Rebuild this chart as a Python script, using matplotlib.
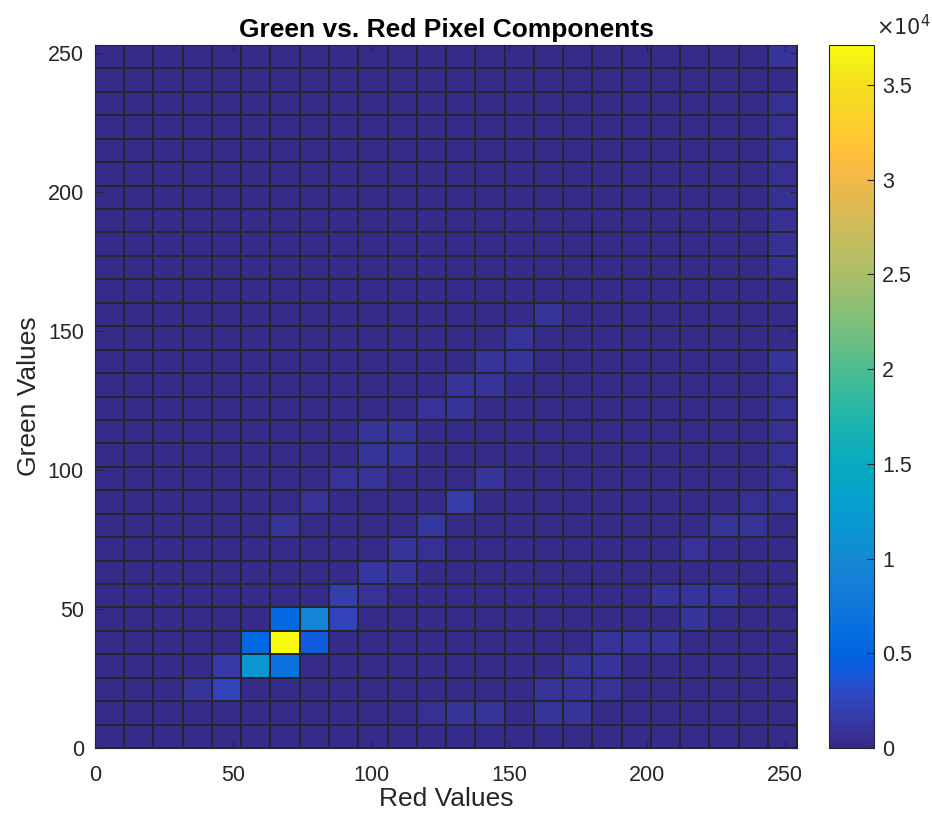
import numpy as np
import matplotlib
matplotlib.use('Agg')
import matplotlib.pyplot as plt
from matplotlib.colors import LinearSegmentedColormap

plt.rcParams['font.family'] = ['Liberation Sans', 'DejaVu Sans']

# bin edges (MATLAB auto binning: 24 red bins, 30 green bins)
x_edges = np.linspace(0, 254.4, 25)
y_edges = np.linspace(0, 253, 31)

# background count level for the empty bins
base_count = 150

# non-background bins: (red bin index, green bin index, count)
hot_cols = [6, 5, 7, 5, 6, 4, 4, 3, 6, 7, 8, 8, 9, 9, 10, 10, 11, 11, 6, 7,
            8, 9, 9, 10, 9, 10, 11, 11, 12, 12, 13, 12, 13, 13, 14, 14, 15,
            22, 21, 22, 20, 19, 20, 21, 20, 17, 18, 19, 16, 17, 15, 16, 17,
            12, 13, 15, 16,
            23, 23, 23, 23, 23, 23, 23, 23, 23, 23, 23, 23, 23, 23, 23, 23]
hot_rows = [4, 4, 4, 3, 3, 3, 2, 2, 5, 5, 5, 6, 6, 7, 7, 8, 8, 9, 9, 10,
            11, 11, 12, 12, 13, 13, 14, 1, 14, 10, 11, 15, 15, 16, 16, 17, 18,
            10, 9, 9, 8, 6, 6, 6, 5, 4, 4, 4, 3, 3, 2, 2, 2,
            1, 1, 1, 1,
            29, 27, 26, 25, 24, 23, 22, 21, 20, 16, 15, 14, 13, 12, 11, 10]
hot_counts = [37100, 5300, 4100, 11600, 6700, 1500, 2400, 1000, 5500, 9300,
              2400, 1800, 800, 1200, 900, 1000, 600, 1200, 800, 800,
              800, 800, 900, 900, 900, 900, 800, 700, 900, 1600, 900, 1000,
              1000, 1000, 1000, 1000, 1000,
              700, 800, 800, 800, 900, 900, 900, 900, 900, 900, 900, 900,
              1000, 900, 900, 800,
              900, 900, 900, 900,
              1000, 700, 700, 700, 700, 700, 700, 700, 700, 900, 700, 700,
              700, 700, 700, 700]

counts = np.full((len(y_edges) - 1, len(x_edges) - 1), float(base_count))
for c, r, v in zip(hot_cols, hot_rows, hot_counts):
    counts[r, c] = v

# MATLAB parula colormap (64 entries)
parula_data = [
    [0.2081, 0.1663, 0.5292], [0.2116, 0.1898, 0.5777], [0.2123, 0.2138, 0.6270],
    [0.2081, 0.2386, 0.6771], [0.1959, 0.2645, 0.7279], [0.1707, 0.2919, 0.7792],
    [0.1253, 0.3242, 0.8303], [0.0591, 0.3598, 0.8683], [0.0117, 0.3875, 0.8820],
    [0.0060, 0.4086, 0.8828], [0.0165, 0.4266, 0.8786], [0.0329, 0.4430, 0.8720],
    [0.0498, 0.4586, 0.8641], [0.0629, 0.4737, 0.8554], [0.0723, 0.4887, 0.8467],
    [0.0779, 0.5040, 0.8384], [0.0793, 0.5200, 0.8312], [0.0749, 0.5375, 0.8263],
    [0.0641, 0.5570, 0.8240], [0.0488, 0.5772, 0.8228], [0.0343, 0.5966, 0.8199],
    [0.0265, 0.6137, 0.8135], [0.0239, 0.6287, 0.8038], [0.0231, 0.6418, 0.7913],
    [0.0228, 0.6535, 0.7768], [0.0267, 0.6642, 0.7607], [0.0384, 0.6743, 0.7436],
    [0.0590, 0.6838, 0.7254], [0.0843, 0.6928, 0.7062], [0.1133, 0.7015, 0.6859],
    [0.1453, 0.7098, 0.6646], [0.1801, 0.7177, 0.6424], [0.2178, 0.7250, 0.6193],
    [0.2586, 0.7317, 0.5954], [0.3022, 0.7376, 0.5712], [0.3482, 0.7424, 0.5473],
    [0.3953, 0.7459, 0.5244], [0.4420, 0.7481, 0.5033], [0.4871, 0.7491, 0.4840],
    [0.5300, 0.7491, 0.4661], [0.5709, 0.7485, 0.4494], [0.6099, 0.7473, 0.4337],
    [0.6473, 0.7456, 0.4188], [0.6834, 0.7435, 0.4044], [0.7184, 0.7411, 0.3905],
    [0.7525, 0.7384, 0.3768], [0.7858, 0.7356, 0.3633], [0.8185, 0.7327, 0.3498],
    [0.8507, 0.7299, 0.3360], [0.8824, 0.7274, 0.3217], [0.9139, 0.7258, 0.3063],
    [0.9450, 0.7261, 0.2886], [0.9739, 0.7314, 0.2666], [0.9938, 0.7455, 0.2403],
    [0.9990, 0.7653, 0.2164], [0.9955, 0.7861, 0.1967], [0.9880, 0.8066, 0.1794],
    [0.9789, 0.8271, 0.1633], [0.9697, 0.8481, 0.1475], [0.9626, 0.8705, 0.1309],
    [0.9589, 0.8949, 0.1132], [0.9598, 0.9218, 0.0948], [0.9661, 0.9514, 0.0755],
    [0.9763, 0.9831, 0.0538]]
parula = LinearSegmentedColormap.from_list('parula', parula_data)

fig = plt.figure(figsize=(9.32, 8.23), dpi=100)
ax = fig.add_axes([0.1019, 0.0911, 0.7533, 0.8542])
mesh = ax.pcolormesh(x_edges, y_edges, counts, cmap=parula, vmin=0,
                     vmax=max(hot_counts), edgecolors=(0.15, 0.15, 0.18),
                     linewidth=1.2)
ax.set_xlim(0, 254.4)
ax.set_ylim(0, 253)
ax.set_xticks([0, 50, 100, 150, 200, 250])
ax.set_yticks([0, 50, 100, 150, 200, 250])
ax.tick_params(direction='in', length=5, labelsize=15.5, colors='#262626',
               top=True, right=True)
ax.tick_params(axis='x', pad=12)
ax.tick_params(axis='y', pad=8)
for s in ax.spines.values():
    s.set_color('#262626')
    s.set_linewidth(0.8)
ax.set_title('Green vs. Red Pixel Components', fontsize=19, fontweight='bold',
             pad=6)
ax.set_xlabel('Red Values', fontsize=19, color='#262626', labelpad=1)
ax.set_ylabel('Green Values', fontsize=19, color='#262626', labelpad=5)

cax = fig.add_axes([829 / 932, 0.0911, 45 / 932, 0.8542])
cb = fig.colorbar(mesh, cax=cax)
cb.set_ticks([0, 5000, 10000, 15000, 20000, 25000, 30000, 35000])
cb.set_ticklabels(['0', '0.5', '1', '1.5', '2', '2.5', '3', '3.5'])
cb.ax.tick_params(direction='in', length=5, labelsize=15.5, colors='#262626',
                  pad=6)
cb.outline.set_linewidth(0.8)
cb.outline.set_edgecolor('#262626')
fig.text(876 / 932, 1 - 27 / 823, r'$\times 10^4$', fontsize=15,
         color='#262626', ha='left', va='center')

fig.savefig('out.png', dpi=100)
